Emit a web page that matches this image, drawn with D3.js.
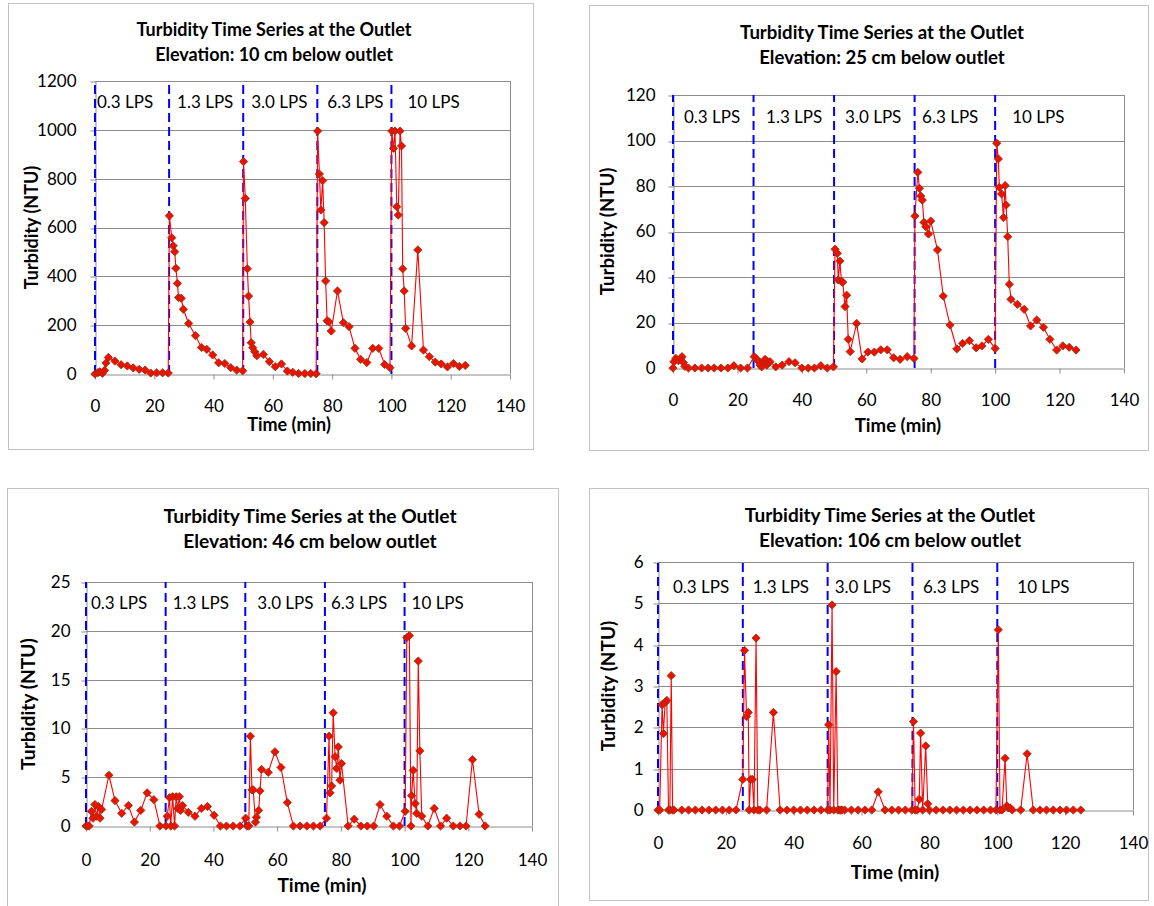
<!DOCTYPE html>
<html><head><meta charset="utf-8">
<script src="https://cdn.jsdelivr.net/npm/d3@7/dist/d3.min.js"></script>
<style>
body{margin:0;background:#fff}
svg{display:block}
text{font-family:Lato,"Open Sans",sans-serif;fill:#000}
</style>
</head><body>
<svg id="chart" width="1154" height="906"></svg>
<script>
// ---------- data ----------
const flowLabels = ["0.3 LPS", "1.3 LPS", "3.0 LPS", "6.3 LPS", "10 LPS"];
const flowStarts = [0, 25, 50, 75, 100];
const xTicks = [0, 20, 40, 60, 80, 100, 120, 140];
const titleLine1 = "Turbidity Time Series at the Outlet";
const elevations = ["Elevation: 10 cm below outlet", "Elevation: 25 cm below outlet",
                    "Elevation: 46 cm below outlet", "Elevation: 106 cm below outlet"];
const yTicks10 = [0, 200, 400, 600, 800, 1000, 1200];
const yTicks25 = [0, 20, 40, 60, 80, 100, 120];
const yTicks46 = [0, 5, 10, 15, 20, 25];
const yTicks106 = [0, 1, 2, 3, 4, 5, 6];

const time10 = [0,1,1.6,2.5,3.2,3.7,4.5,6.7,8.8,10.9,12.9,14.9,16.9,18.8,20.8,22.8,24.7,
 25.1,25.9,26.4,26.9,27.3,27.8,28.2,29.1,29.8,31.6,33.9,35.9,37.7,39.7,41.7,43.8,45.8,47.8,49.8,
 50.1,50.7,51.4,51.8,52.3,52.7,53.2,53.9,54.6,56.8,58.8,60.8,62.9,64.9,66.7,68.7,70.8,72.8,74.6,
 75.1,75.7,76.2,76.8,77.3,77.8,78.3,78.9,79.7,81.8,83.8,85.7,87.7,89.6,91.7,93.7,95.7,97.7,99.5,
 100.1,100.7,101.2,101.8,102.3,102.9,103.4,103.8,104.3,104.8,106.8,108.9,110.8,112.8,114.8,116.8,118.9,120.9,122.9,124.9];
const ntu10 = [0,6,9,3,15,45,68,53,38,33,25,19,16,4,5,5,4,
 648,558,525,501,433,371,313,310,265,207,157,109,101,78,46,43,26,16,13,
 870,719,431,319,213,128,108,91,75,80,51,30,41,12,7,2,2,2,1,
 995,819,672,792,620,381,218,214,176,340,210,194,105,60,47,105,105,39,26,
 995,924,995,685,651,995,934,431,340,187,115,508,98,71,49,41,29,43,31,35];

const time25 = [0,0.3,0.9,1.7,2.4,2.8,3.2,3.7,4.8,6.8,8.9,10.9,12.8,14.9,17,18.9,21,23.1,
 25.2,26,26.7,27,27.5,28.1,28.6,29.1,29.6,30.1,31.9,33.9,36,37.9,40,42,43.9,45.9,47.9,49.8,
 50.3,51,51.3,51.8,52.3,52.7,53.4,53.9,54.4,55,57,58.7,60.5,62.5,64.5,66.5,68.5,70.5,72.7,74.8,
 75.1,76,76.5,76.9,77.4,77.9,78.5,79.3,80,82.1,83.9,86,88.1,89.9,92,94.1,95.9,97.9,100,
 100.5,101,101.3,102,102.6,103.1,103.4,103.9,104.4,104.9,106.9,109,111,112.9,115,117,119.1,121,123,125.1];
const ntu25 = [0,2.8,4.2,3.2,4.2,5,2.4,0.7,0,0,0,0,0,0,0,1,0,0,
 5,3.8,2.8,1.3,0.5,2.8,3.8,1.3,2.3,2.8,0.5,1.3,2.8,2.3,0,0,0,1,0,0.5,
 52.2,50.4,38.7,47,38,37.7,27,32,12.6,7.2,19.6,4,7,7,8,8,4.5,3.8,5,4.2,
 66.8,86,79,75.6,73.8,64,62.1,58.9,64.6,51.9,31.6,18.9,8.4,10.8,12,8.9,9.7,12.6,8.6,
 98.8,91.9,79.4,76.5,66.1,80.2,71.6,57.7,36.8,30.2,28,25.8,18.5,21.1,17.9,12.6,7.9,9.7,9.1,7.9];

const time46 = [0,0.5,1,1.7,2.2,2.8,3.3,3.9,4.4,4.9,7.2,9.1,11.2,13.3,15.2,17.2,19.2,21.3,23.2,
 25.1,25.5,26.2,26.6,27.2,27.8,28.3,28.8,29.3,29.7,30.3,32.1,34.2,36.2,38.1,40.2,42.2,44.1,46.2,48.3,50.1,
 50.5,51.1,51.6,52.1,52.5,53.2,53.5,54.2,54.6,55.1,57.2,59.3,61.2,63.2,65.1,67.2,69.3,71.4,73.5,75.5,
 76.3,76.6,77.1,77.6,78.2,78.7,79.2,79.7,80.2,82.3,84.2,86.3,88.3,90.3,92.3,94.4,96.5,98.4,100.2,
 100.7,101.5,102,102.2,102.7,103.3,103.8,104.3,104.8,105.4,107.3,109.3,111.3,113.2,115.3,117.4,119.3,121.3,123.4,125.3];
const ntu46 = [0,0,0,1.5,0.8,2.2,1,2,0.8,1.7,5.2,2.6,1.3,2.1,0.4,1.6,3.4,2.7,0,
 0,1,2.9,0,3,0,3,1.8,3,1.6,2.1,1.4,1,1.8,2,1.1,0,0,0,0,0.8,
 0,0,9.2,3.7,3.7,0.4,0.9,1.6,3.6,5.8,5.5,7.6,6,2.4,0,0,0,0,0,0.8,
 9.2,3.4,4.1,11.6,7.1,5.9,8.1,4.7,6.4,0,0.7,0,0,0,2.2,1,0,0,1.5,
 19.3,19.5,0,3.1,5.7,2.3,1.3,16.9,7.7,1,0,1.8,0,0.8,0,0,0,6.8,1.2,0];

const time106 = [0,0.5,1.2,1.6,2.1,2.6,3.1,3.5,3.9,4.3,4.7,7,9,11,13,15,17,19,21,23,
 25,25.5,26.1,26.6,26.9,27.3,27.8,28.3,28.9,29.4,30,32,34,36,38,40,42,44,46,48,
 50,50.3,50.7,51.3,51.8,52.5,53,53.4,53.8,54.2,55,57,59,61,63,64.9,66.9,68.9,70.9,72.9,74.8,
 75.3,75.8,76.4,77,77.4,78,78.9,79.5,80,82,84,86,88,90,92,94,96,98,99.6,
 100.3,100.8,101.4,102.3,102.8,103.3,103.8,104.4,106.9,108.8,110.6,112.6,114.5,116.5,118.5,120.4,122.4,124.6];
const ntu106 = [0,0,2.55,1.85,2.6,2.65,0,0,3.25,0,0,0,0,0,0,0,0,0,0,0,
 0.74,3.86,2.26,2.36,0,0.74,0.74,0,4.16,0,0,0,2.36,0,0,0,0,0,0,0,
 0,2.06,0,4.96,0,3.35,0,0,0,0,0,0,0,0,0,0.44,0,0,0,0,0,
 2.14,0,0,0.26,1.86,0,1.55,0.15,0,0,0,0,0,0,0,0,0,0,0,
 4.36,0,0,1.25,0.1,0.05,0.05,0,0,1.36,0,0,0,0,0,0,0,0];

// ---------- layout ----------
const panels = [
  {t: time10, v: ntu10, ticks: yTicks10, title2: elevations[0],
   frame: [8, 3, 533, 449], l: 95, r: 510, top: 81, bot: 374, fs: 18,
   titleX: 274, titleY: [36, 61], ylabX: 32, xlab: [289, 425], xPad: 20, yPad: 14,
   lpsY: 102, lpsDx: [2, 8, 8, 10, 16]},
  {t: time25, v: ntu25, ticks: yTicks25, title2: elevations[1],
   frame: [589, 5, 1148, 450], l: 673, r: 1124, top: 95, bot: 368, fs: 18.6,
   titleX: 882, titleY: [39, 64], ylabX: 607, xlab: [898, 425], xPad: 20, yPad: 13,
   lpsY: 117, lpsDx: [11, 12.5, 11, 7.5, 17]},
  {t: time46, v: ntu46, ticks: yTicks46, title2: elevations[2],
   frame: [7, 488, 558, 912], l: 86, r: 532, top: 582, bot: 826, fs: 19.2,
   titleX: 310, titleY: [523, 548], ylabX: 28, xlab: [322, 885], xPad: 22, yPad: 11,
   lpsY: 603, lpsDx: [5, 7, 12, 6, 7]},
  {t: time106, v: ntu106, ticks: yTicks106, title2: elevations[3],
   frame: [589, 488, 1148, 900], l: 658, r: 1133, top: 562, bot: 810, fs: 19,
   titleX: 890, titleY: [522, 547], ylabX: 608, xlab: [895, 872], xPad: 21, yPad: 10,
   lpsY: 587, lpsDx: [15, 10, 7, 10.5, 20]}
];

const svg = d3.select("#chart");
const gridColor = "#8c8c8c";
const diamond = d3.symbol().type(d3.symbolSquare).size(34);

panels.forEach(P => {
  const g = svg.append("g");
  g.append("rect")
    .attr("x", P.frame[0] + 0.5).attr("y", P.frame[1] + 0.5)
    .attr("width", P.frame[2] - P.frame[0]).attr("height", P.frame[3] - P.frame[1])
    .attr("fill", "#fff").attr("stroke", "#c3c3c3");

  const x = d3.scaleLinear().domain([0, 140]).range([P.l, P.r]);
  const y = d3.scaleLinear().domain([0, d3.max(P.ticks)]).range([P.bot, P.top]);

  // gridlines
  g.selectAll(".grid").data(P.ticks.slice(1)).join("line")
    .attr("x1", P.l).attr("x2", P.r)
    .attr("y1", d => Math.round(y(d)) + 0.5).attr("y2", d => Math.round(y(d)) + 0.5)
    .attr("stroke", gridColor).attr("stroke-width", 1);
  // right border
  g.append("line").attr("x1", P.r + 0.5).attr("x2", P.r + 0.5)
    .attr("y1", P.top).attr("y2", P.bot).attr("stroke", gridColor);

  // axes
  const xa = g.append("g").attr("transform", `translate(0,${Math.round(P.bot) + 0.5})`)
    .call(d3.axisBottom(x).tickValues(xTicks).tickSize(5).tickSizeOuter(0).tickPadding(P.xPad));
  const ya = g.append("g").attr("transform", `translate(${Math.round(P.l) + 0.5},0)`)
    .call(d3.axisLeft(y).tickValues(P.ticks).tickFormat(d => String(d))
      .tickSize(5).tickSizeOuter(0).tickPadding(P.yPad));
  [xa, ya].forEach(a => {
    a.select(".domain").attr("stroke", gridColor);
    a.selectAll(".tick line").attr("stroke", gridColor);
    a.selectAll(".tick text").attr("font-family", "Lato").attr("font-size", 17).attr("fill", "#000");
  });
  ya.selectAll(".tick line").attr("transform", d => `translate(0,${Math.round(y(d)) + 0.5 - y(d)})`);

  // flow-rate divider lines and labels
  g.selectAll(".div").data(flowStarts).join("line")
    .attr("x1", d => x(d)).attr("x2", d => x(d))
    .attr("y1", P.bot).attr("y2", P.top)
    .attr("stroke", "#0000ff").attr("stroke-width", 2).attr("stroke-dasharray", "9,5");
  g.selectAll(".lps").data(flowLabels).join("text")
    .attr("x", (d, i) => x(flowStarts[i]) + P.lpsDx[i]).attr("y", P.lpsY)
    .attr("dy", "0.35em").attr("font-size", 17).text(d => d);

  // series
  const pts = P.t.map((t, i) => [t, P.v[i]]);
  g.append("path").datum(pts)
    .attr("d", d3.line().x(d => x(d[0])).y(d => y(d[1])))
    .attr("fill", "none").attr("stroke", "#ff0000").attr("stroke-width", 1.1);
  g.selectAll(".pt").data(pts).join("path")
    .attr("d", diamond)
    .attr("transform", d => `translate(${x(d[0])},${y(d[1])}) rotate(45)`)
    .attr("fill", "#ee1100").attr("stroke", "#9a3010").attr("stroke-width", 0.8);

  // titles
  g.append("text").attr("x", P.titleX).attr("y", P.titleY[0]).attr("text-anchor", "middle")
    .attr("font-weight", "bold").attr("font-size", P.fs).text(titleLine1);
  g.append("text").attr("x", P.titleX).attr("y", P.titleY[1]).attr("text-anchor", "middle")
    .attr("font-weight", "bold").attr("font-size", P.fs).text(P.title2);
  g.append("text").attr("transform", `translate(${P.ylabX},${(P.top + P.bot) / 2}) rotate(-90)`)
    .attr("text-anchor", "middle").attr("dy", "0.35em")
    .attr("font-weight", "bold").attr("font-size", P.fs).text("Turbidity (NTU)");
  g.append("text").attr("x", P.xlab[0]).attr("y", P.xlab[1]).attr("text-anchor", "middle")
    .attr("dy", "0.35em").attr("font-weight", "bold").attr("font-size", P.fs).text("Time (min)");
});
</script>
</body></html>
